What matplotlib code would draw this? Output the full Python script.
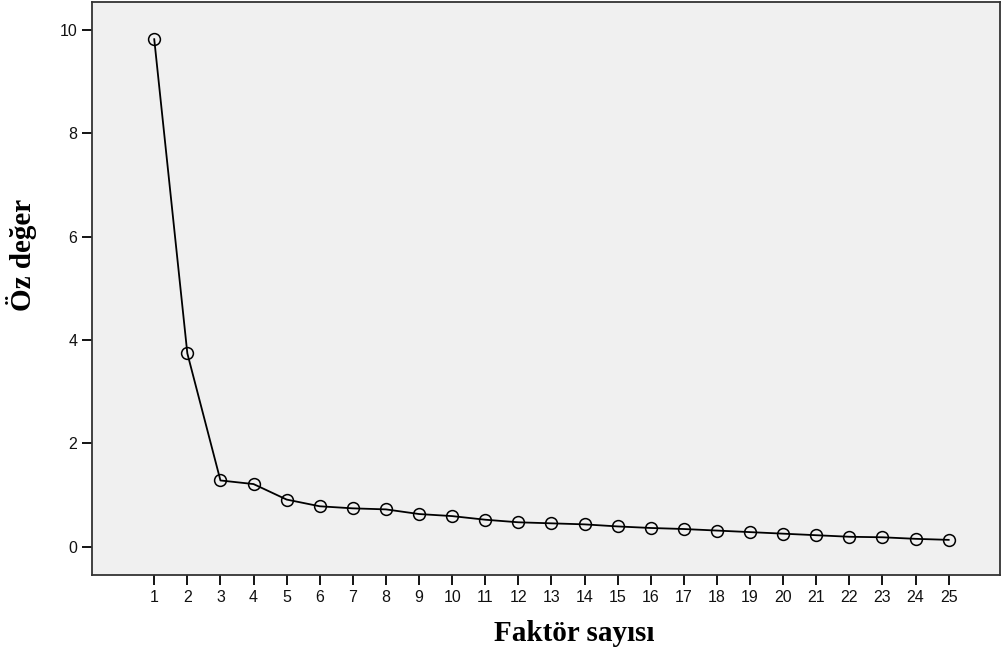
import matplotlib
matplotlib.use("Agg")
import matplotlib.pyplot as plt

factors = list(range(1, 26))
eigenvalues = [9.82, 3.74, 1.28, 1.21, 0.91, 0.78, 0.74, 0.72, 0.63, 0.59,
               0.52, 0.47, 0.45, 0.43, 0.39, 0.36, 0.34, 0.31, 0.28, 0.25,
               0.22, 0.19, 0.18, 0.15, 0.13]
y_ticks = [0, 2, 4, 6, 8, 10]
x_label = "Faktör sayısı"
y_label = "Öz değer"

fig = plt.figure(figsize=(10.03, 6.55), dpi=100)
ax = fig.add_axes([92/1003, 1-575/655, (1000-92)/1003, (575-2)/655])
ax.set_facecolor("#f0f0f0")

ax.plot(factors, eigenvalues, color="black", linewidth=1.3,
        marker="o", markersize=8.5, markerfacecolor="none",
        markeredgecolor="black", markeredgewidth=1.1)

ax.set_xlim(-0.88, 26.55)
ax.set_ylim(-0.55, 10.54)
ax.set_xticks(factors)
ax.set_xticklabels([str(f) for f in factors])
ax.set_yticks(y_ticks)
ax.tick_params(axis="both", direction="out", length=7, width=1.3,
               labelsize=11.5, colors="black")
ax.tick_params(axis="x", pad=4)
for lab in ax.get_xticklabels() + ax.get_yticklabels():
    lab.set_fontfamily("Liberation Sans")
    lab.set_color("#111111")
for s in ax.spines.values():
    s.set_linewidth(1.3)
    s.set_color("#333333")

ax.set_xlabel(x_label, fontfamily="Liberation Serif", fontweight="bold",
              fontsize=21)
ax.xaxis.set_label_coords(0.531, -0.079)
ax.set_ylabel(y_label, fontfamily="Liberation Serif", fontweight="bold",
              fontsize=21)
ax.yaxis.set_label_coords(-0.061, 0.558)

fig.savefig("out.png", dpi=100)
